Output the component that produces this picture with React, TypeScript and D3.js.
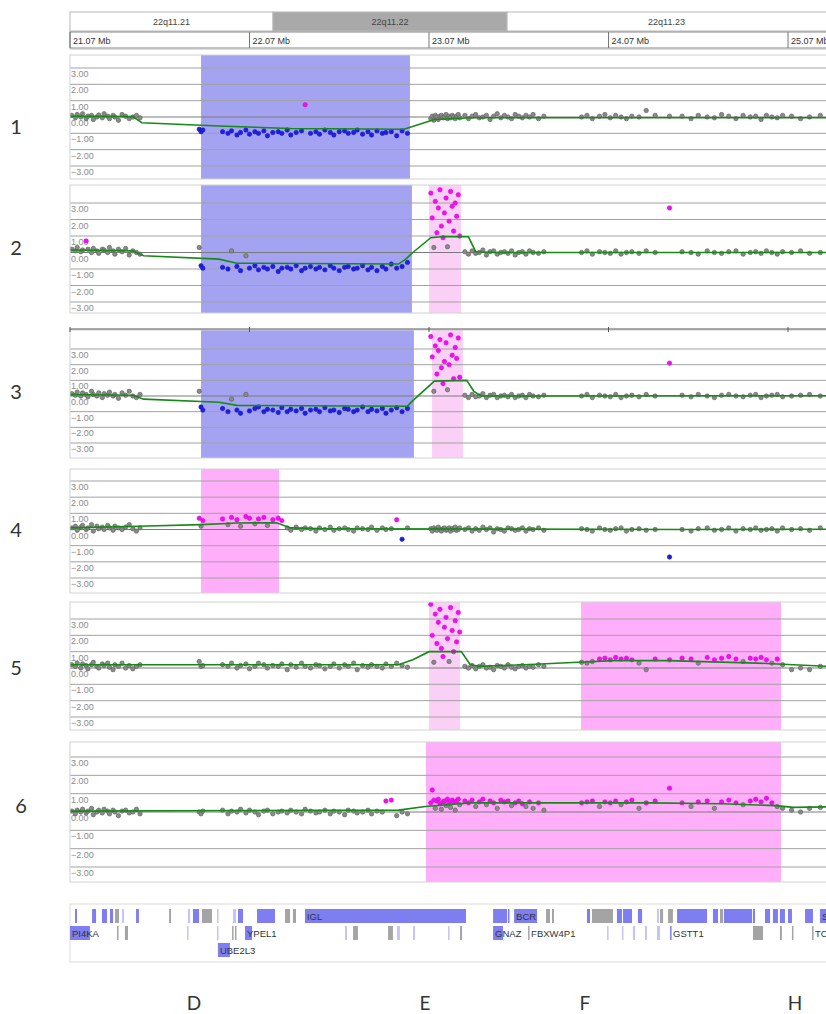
import React, { useEffect, useRef } from 'react';
import * as d3 from 'd3';

// probe positions (Mb), same array for every sample
const probeMb = [
  // 21.07 - 21.46
  21.08, 21.10, 21.11, 21.13, 21.14, 21.16, 21.17, 21.19, 21.20, 21.22, 21.23, 21.25,
  21.26, 21.28, 21.29, 21.31, 21.32, 21.34, 21.36, 21.38, 21.40, 21.42, 21.44, 21.46,
  // 21.8
  21.79, 21.80, 21.81,
  // 21.92 - 22.95
  21.92, 21.95, 21.97, 22.00, 22.02, 22.05, 22.07, 22.10, 22.12, 22.15,
  22.17, 22.20, 22.23, 22.25, 22.28, 22.30, 22.33, 22.36, 22.38, 22.41,
  22.44, 22.46, 22.49, 22.52, 22.54, 22.57, 22.60, 22.62, 22.65, 22.67,
  22.70, 22.73, 22.75, 22.78, 22.81, 22.83, 22.86, 22.89, 22.92, 22.95,
  // 23.08 - 23.24
  23.080, 23.088, 23.097, 23.105, 23.114, 23.122, 23.131, 23.139, 23.148, 23.156,
  23.165, 23.173, 23.182, 23.190, 23.199, 23.207, 23.216, 23.224, 23.233, 23.241,
  // 23.27 - 23.71
  23.27, 23.29, 23.31, 23.33, 23.35, 23.37, 23.39, 23.41, 23.43, 23.45,
  23.47, 23.49, 23.51, 23.53, 23.55, 23.57, 23.59, 23.61, 23.63, 23.65,
  23.68, 23.71,
  // 23.92 - 24.41
  23.92, 23.95, 23.98, 24.02, 24.05, 24.08, 24.11, 24.14, 24.17, 24.20,
  24.24, 24.28, 24.33, 24.41,
  // 24.48 - 25.25
  24.48, 24.53, 24.57, 24.62, 24.66, 24.70, 24.74, 24.78, 24.82, 24.86,
  24.89, 24.92, 24.95, 24.98, 25.01, 25.04, 25.09, 25.14, 25.19, 25.25,
];

const p1Values = [
  0.1, -0.05, 0.15, 0.0, 0.2, -0.1, 0.05, 0.1, -0.15, 0.0, 0.12, -0.05, 0.2, 0.05, -0.1, 0.1, 0.0, -0.2, 0.15, 0.05, -0.1, 0.0, 0.1, -0.05,
  -0.75, -0.9, -0.8,
  -0.9, -1.0, -0.85, -1.1, -0.95, -0.8, -1.05, -0.9, -1.0, -0.85,
  -1.15, -0.95, -0.9, -1.0, -0.8, -1.1, -0.95, -0.85, 0.75, -1.0,
  -0.9, -1.05, -0.8, -0.95, -1.1, -0.9, -0.85, -1.0, -0.95, -0.8,
  -1.05, -0.9, -1.1, -0.85, -1.0, -0.95, -0.9, -1.15, -0.85, -1.0,
  -0.1, 0.05, -0.2, 0.1, 0.0, -0.15, 0.05, 0.1, -0.05, 0.0, 0.15, -0.1, 0.05, -0.05, 0.1, 0.0, -0.1, 0.05, 0.15, -0.05,
  0.1, -0.1, 0.05, 0.15, -0.05, 0.0, 0.1, -0.15, 0.05, 0.2, -0.05, 0.1, 0.0, -0.1, 0.15, 0.05, -0.05, 0.1, 0.0, 0.15, -0.1, 0.05,
  0.0, 0.1, -0.1, 0.05, 0.15, -0.05, 0.1, 0.0, -0.1, 0.05, 0.0, 0.4, 0.1, 0.05,
  0.05, -0.1, 0.1, 0.0, -0.05, 0.15, 0.05, -0.1, 0.1, 0.0, 0.05, -0.15, 0.1, 0.0, -0.05, 0.1, 0.05, -0.1, 0.0, 0.1,
];

const p2Values = [
  0.2, 0.1, 0.3, 0.05, 0.15, 0.7, 0.2, 0.0, 0.25, 0.1, -0.05, 0.2, 0.15, 0.0, 0.3, 0.1, -0.1, 0.2, 0.05, 0.25, -0.15, 0.1, 0.0, -0.1,
  0.3, -0.8, -0.95,
  -0.9, -1.0, 0.1, -0.85, -1.1, -0.2, -0.95, -0.8, -1.05, -0.9,
  -1.0, -0.85, -1.15, -0.95, -0.9, -1.0, -0.8, -1.1, -0.95, -0.85,
  -1.0, -0.9, -1.05, -0.8, -0.95, -1.1, -0.9, -0.85, -1.0, -0.95,
  -0.8, -1.05, -0.9, -1.1, -0.85, -1.0, -0.7, -0.95, -0.85, -0.6,
  3.6, 2.1, 0.3, 3.1, 1.2, 2.7, 3.8, 1.6, 0.9, 2.4, 3.3, 0.35, 1.9, 3.7, 2.8, 1.3, 3.0, 2.2, 3.5, 1.0,
  0.05, -0.1, 0.1, -0.05, 0.0, 0.15, -0.15, 0.05, 0.1, -0.1, 0.0, 0.05, -0.05, 0.1, -0.15, 0.0, 0.05, -0.1, 0.1, 0.0, -0.05, 0.05,
  0.0, 0.1, -0.1, 0.05, 0.0, -0.05, 0.1, -0.1, 0.0, 0.05, -0.05, 0.1, 0.0, 2.7,
  0.05, 0.0, -0.1, 0.1, 0.0, -0.05, 0.05, 0.1, -0.1, 0.0, 0.05, -0.05, 0.1, 0.0, -0.1, 0.05, 0.0, 0.1, -0.05, 0.0,
];

const p3Values = [
  0.15, 0.05, 0.25, 0.0, 0.2, 0.1, -0.05, 0.3, 0.1, 0.0, 0.2, -0.1, 0.15, 0.05, 0.25, 0.0, 0.1, -0.15, 0.2, 0.05, 0.3, 0.0, -0.1, 0.1,
  0.3, -0.7, -0.9,
  -0.8, -1.0, -0.2, -0.9, -1.1, 0.1, -0.95, -0.8, -0.7, -1.0,
  -0.85, -0.9, -1.05, -0.75, -1.0, -0.85, -0.95, -0.8, -1.1, -0.9,
  -0.85, -1.0, -0.75, -0.95, -0.9, -1.05, -0.8, -0.85, -1.0, -0.9,
  -0.7, -1.0, -0.85, -0.95, -0.8, -1.1, -0.9, -0.75, -1.0, -0.8,
  3.8, 2.5, 0.3, 3.2, 1.4, 2.9, 3.6, 1.8, 0.8, 2.2, 3.4, 0.4, 2.0, 3.9, 2.6, 1.1, 3.1, 2.4, 3.7, 1.2,
  0.05, -0.1, 0.1, -0.05, 0.0, 0.15, -0.1, 0.05, 0.1, -0.1, 0.0, 0.05, -0.05, 0.1, -0.1, 0.0, 0.05, -0.1, 0.1, 0.0, -0.05, 0.05,
  0.0, 0.1, -0.1, 0.05, 0.0, -0.05, 0.1, -0.1, 0.0, 0.05, -0.05, 0.1, 0.0, 2.1,
  0.05, -0.05, 0.1, 0.0, -0.1, 0.05, 0.1, 0.0, -0.05, 0.05, 0.1, -0.1, 0.0, 0.05, 0.1, -0.05, 0.0, 0.05, 0.1, 0.0,
];

const p4Values = [
  0.1, 0.2, -0.05, 0.15, 0.25, 0.0, 0.1, 0.3, -0.1, 0.2, 0.05, 0.15, 0.0, 0.25, 0.1, -0.05, 0.2, 0.1, 0.0, 0.15, 0.3, 0.05, -0.1, 0.1,
  0.7, 0.2, 0.55,
  0.65, 0.3, 0.75, 0.6, 0.2, 0.8, 0.7, 0.35, 0.65, 0.75,
  0.25, 0.6, 0.7, 0.55, 0.1, -0.05, 0.15, 0.0, 0.1, 0.05,
  -0.1, 0.1, 0.0, 0.15, -0.05, 0.05, 0.1, 0.0, -0.1, 0.1,
  0.05, 0.0, 0.15, -0.05, 0.1, 0.0, 0.05, 0.6, -0.6, 0.1,
  0.05, -0.1, 0.1, 0.0, -0.05, 0.15, 0.0, -0.1, 0.05, 0.1, -0.05, 0.0, 0.1, -0.1, 0.05, 0.0, 0.15, -0.05, 0.0, 0.1,
  0.0, 0.1, -0.1, 0.05, -0.05, 0.15, 0.0, 0.1, -0.15, 0.05, 0.0, -0.1, 0.1, 0.05, -0.05, 0.0, 0.1, -0.1, 0.05, 0.0, 0.1, -0.05,
  0.05, 0.0, -0.1, 0.1, 0.0, -0.05, 0.05, 0.1, -0.1, 0.0, 0.05, -0.05, 0.0, -1.7,
  0.0, -0.1, 0.05, 0.1, -0.05, 0.0, 0.1, -0.1, 0.05, 0.0, 0.1, -0.05, 0.0, 0.05, -0.1, 0.1, 0.0, 0.05, -0.05, 0.1,
];

const p5Values = [
  0.2, 0.1, 0.3, 0.0, 0.25, 0.15, -0.05, 0.2, 0.35, 0.1, 0.0, 0.25, 0.15, 0.3, 0.05, -0.1, 0.2, 0.1, 0.3, 0.0, 0.15, -0.05, 0.1, 0.2,
  0.4, 0.1, 0.15,
  0.2, 0.1, 0.3, 0.0, 0.15, 0.25, -0.05, 0.1, 0.3, 0.2,
  0.0, 0.15, 0.1, 0.25, -0.1, 0.2, 0.05, 0.3, 0.1, 0.0,
  0.2, 0.15, -0.05, 0.1, 0.25, 0.0, 0.2, 0.1, 0.3, -0.1,
  0.15, 0.05, 0.2, 0.1, 0.0, 0.25, 0.1, 0.3, 0.15, 0.05,
  3.9, 2.0, 0.35, 3.3, 1.5, 2.8, 3.6, 1.2, 0.7, 2.5, 3.1, 1.8, 0.4, 3.7, 2.3, 1.0, 2.9, 1.6, 3.4, 2.2,
  0.1, 0.0, 0.15, -0.05, 0.1, 0.2, 0.0, 0.05, -0.1, 0.15, 0.1, 0.0, 0.2, 0.05, -0.05, 0.1, 0.15, 0.0, 0.1, 0.05, 0.2, 0.1,
  0.35, 0.3, 0.4, 0.55, 0.6, 0.5, 0.65, 0.55, 0.6, 0.5, 0.3, -0.1, 0.55, 0.5,
  0.6, 0.55, 0.3, 0.65, 0.5, 0.6, 0.7, 0.55, 0.4, 0.6, 0.55, 0.65, 0.5, 0.3, 0.55, 0.2, -0.1, 0.0, -0.1, 0.1,
];

const p6Values = [
  0.05, -0.1, 0.1, 0.0, 0.15, -0.05, 0.05, 0.2, -0.15, 0.0, 0.1, -0.05, 0.15, 0.05, -0.1, 0.1, 0.0, -0.2, 0.05, 0.1, -0.05, 0.0, 0.15, -0.1,
  0.0, -0.1, 0.05,
  0.1, -0.1, 0.05, 0.0, 0.15, -0.05, 0.1, 0.0, -0.15, 0.05,
  0.1, -0.1, 0.0, 0.05, -0.05, 0.1, 0.0, -0.1, 0.15, 0.05,
  -0.05, 0.0, 0.1, -0.1, 0.05, 0.0, -0.15, 0.1, 0.05, -0.05,
  0.0, 0.1, -0.1, 0.05, 0.0, 0.6, 0.65, -0.2, 0.0, -0.1,
  0.5, 1.2, 0.65, 0.2, 0.6, 0.7, 0.45, 0.15, 0.55, 0.6, 0.35, 0.7, 0.5, 0.25, 0.65, 0.55, 0.1, 0.6, 0.7, 0.4,
  0.6, 0.5, 0.65, 0.3, 0.55, 0.7, 0.4, 0.6, 0.5, 0.2, 0.65, 0.55, 0.6, 0.35, 0.5, 0.6, 0.45, 0.3, 0.55, 0.2, 0.5, 0.1,
  0.5, 0.55, 0.6, 0.3, 0.55, 0.5, 0.6, 0.4, 0.55, 0.65, 0.2, 0.5, 0.6, 1.3,
  0.5, 0.3, 0.55, 0.6, 0.2, 0.55, 0.65, 0.5, 0.4, 0.6, 0.7, 0.55, 0.75, 0.5, 0.3, 0.2, 0.1, 0.0, 0.2, 0.25,
];

// smoothed ratio line [Mb, log2 ratio]
const p1Trend = [[21.07, 0.05], [21.42, 0.02], [21.47, -0.35], [21.9, -0.55], [22.3, -0.7], [22.93, -0.75], [23.0, -0.5], [23.1, -0.15], [23.3, -0.05], [25.4, -0.05]];
const p2Trend = [[21.07, 0.15], [21.42, 0.1], [21.48, -0.2], [21.9, -0.4], [22.0, -0.65], [22.9, -0.7], [22.94, -0.4], [22.98, 0.0], [23.08, 0.9], [23.15, 0.97], [23.29, 0.95], [23.33, 0.05], [23.45, 0.0], [25.4, 0.0]];
const p3Trend = [[21.07, 0.1], [21.42, 0.05], [21.48, -0.2], [21.9, -0.4], [22.0, -0.6], [22.95, -0.65], [22.98, -0.3], [23.1, 0.95], [23.28, 1.0], [23.32, 0.3], [23.36, 0.0], [25.4, 0.02]];
const p4Trend = [[21.07, 0.1], [21.45, 0.2], [21.8, 0.3], [22.0, 0.4], [22.22, 0.42], [22.3, 0.1], [22.5, 0.05], [24.5, 0.0], [25.4, 0.02]];
const p5Trend = [[21.07, 0.2], [22.9, 0.2], [22.98, 0.5], [23.07, 1.0], [23.25, 1.0], [23.3, 0.2], [23.35, 0.1], [23.6, 0.2], [23.9, 0.35], [24.1, 0.45], [24.4, 0.45], [24.9, 0.3], [25.1, 0.2], [25.4, 0.05]];
const p6Trend = [[21.07, 0.05], [22.9, 0.1], [23.05, 0.3], [23.3, 0.5], [24.3, 0.5], [24.7, 0.45], [25.0, 0.35], [25.1, 0.25], [25.4, 0.3]];

// called aberrations
const p1Regions = [{ start: 21.8, end: 22.964, type: 'loss' }];
const p2Regions = [{ start: 21.8, end: 22.975, type: 'loss' }, { start: 23.07, end: 23.248, type: 'amp' }];
const p3Regions = [{ start: 21.8, end: 22.986, type: 'loss' }, { start: 23.087, end: 23.259, type: 'amp' }];
const p4Regions = [{ start: 21.8, end: 22.234, type: 'gain' }];
const p5Regions = [{ start: 23.07, end: 23.243, type: 'amp' }, { start: 23.917, end: 25.031, type: 'gain' }];
const p6Regions = [{ start: 23.053, end: 25.031, type: 'gain' }];

const cytobands = [
  { name: '22q11.21', start: 21.07, end: 22.201, stain: 'white' },
  { name: '22q11.22', start: 22.201, end: 23.505, stain: 'gray' },
  { name: '22q11.23', start: 23.505, end: 25.4, stain: 'white' },
];
const mbTicks = [21.07, 22.07, 23.07, 24.07, 25.07];
const yTicks = [3, 2, 1, 0, -1, -2, -3];

// [name, start Mb, end Mb, row, shade]
const genes = [
  ['', 21.098, 21.109, 1, 'b'], ['', 21.193, 21.215, 1, 'b'], ['', 21.248, 21.276, 1, 'b'],
  ['', 21.293, 21.31, 1, 'b'], ['', 21.321, 21.343, 1, 'g'], ['', 21.36, 21.371, 1, 'l'],
  ['', 21.438, 21.454, 1, 'b'], ['', 21.622, 21.633, 1, 'g'], ['', 21.727, 21.739, 1, 'l'],
  ['', 21.755, 21.789, 1, 'b'], ['', 21.805, 21.861, 1, 'g'], ['', 21.889, 21.894, 1, 'l'],
  ['', 21.978, 21.995, 1, 'l'], ['', 22.006, 22.034, 1, 'b'], ['', 22.112, 22.212, 1, 'b'],
  ['', 22.268, 22.296, 1, 'g'], ['', 22.312, 22.329, 1, 'g'], ['IGL', 22.379, 23.276, 1, 'b'],
  ['', 23.427, 23.505, 1, 'b'], ['', 23.51, 23.516, 1, 'b'], ['BCR', 23.544, 23.672, 1, 'b'],
  ['', 23.722, 23.744, 1, 'g'], ['', 23.755, 23.766, 1, 'g'], ['', 23.95, 23.967, 1, 'b'],
  ['', 23.978, 24.095, 1, 'g'], ['', 24.117, 24.145, 1, 'b'], ['', 24.151, 24.201, 1, 'b'],
  ['', 24.234, 24.257, 1, 'b'], ['', 24.34, 24.351, 1, 'l'], ['', 24.357, 24.374, 1, 'g'],
  ['', 24.402, 24.429, 1, 'g'], ['', 24.452, 24.619, 1, 'b'], ['', 24.652, 24.68, 1, 'b'],
  ['', 24.691, 24.708, 1, 'g'], ['', 24.713, 24.87, 1, 'b'], ['', 24.875, 24.886, 1, 'b'],
  ['', 24.942, 24.97, 1, 'b'], ['', 24.986, 25.014, 1, 'b'], ['', 25.025, 25.053, 1, 'b'],
  ['', 25.07, 25.092, 1, 'b'], ['', 25.165, 25.209, 1, 'b'], ['S', 25.248, 25.304, 1, 'b'],
  ['PI4KA', 21.07, 21.181, 2, 'b'], ['', 21.332, 21.337, 2, 'g'], ['', 21.376, 21.393, 2, 'g'],
  ['', 21.722, 21.727, 2, 'l'], ['', 21.889, 21.894, 2, 'l'], ['', 21.973, 21.978, 2, 'g'],
  ['', 21.989, 21.995, 2, 'g'], ['YPEL1', 22.045, 22.084, 2, 'b'], ['', 22.602, 22.613, 2, 'l'],
  ['', 22.647, 22.674, 2, 'g'], ['', 22.842, 22.869, 2, 'g'], ['', 22.892, 22.908, 2, 'l'],
  ['', 22.981, 22.992, 2, 'l'], ['', 23.176, 23.181, 2, 'l'], ['', 23.243, 23.254, 2, 'g'],
  ['GNAZ', 23.427, 23.482, 2, 'b'], ['FBXW4P1', 23.622, 23.627, 2, 'g'], ['', 24.062, 24.067, 2, 'l'],
  ['', 24.145, 24.151, 2, 'l'], ['', 24.206, 24.218, 2, 'l'], ['', 24.273, 24.284, 2, 'l'],
  ['', 24.34, 24.357, 2, 'l'], ['GSTT1', 24.413, 24.418, 2, 'b'], ['', 24.875, 24.931, 2, 'g'],
  ['', 25.025, 25.036, 2, 'g'], ['', 25.092, 25.098, 2, 'g'], ['TC', 25.204, 25.209, 2, 'g'],
  ['UBE2L3', 21.894, 21.961, 3, 'b'],
];

const markers = [['D', 21.761], ['E', 23.048], ['F', 23.939], ['H', 25.109]];

const App = () => {
  const ref = useRef<SVGSVGElement>(null);

  const drawChart = () => {
    const width = 826;
    const height = 1014;
    const left = 70;
    const right = 832;
    const x = d3.scaleLinear().domain([21.07, 25.07]).range([70, 788]);

    const svg = d3.select(ref.current);
    svg.selectAll('*').remove();
    svg.attr('width', width).attr('height', height);
    svg.append('rect').attr('width', width).attr('height', height).attr('fill', 'white');

    // ideogram band row
    const head = svg.append('g').attr('font-family', 'Liberation Sans, Arial, sans-serif').attr('font-size', 9);
    head
      .selectAll('rect.band')
      .data(cytobands)
      .enter()
      .append('rect')
      .attr('x', (d) => Math.max(left, x(d.start)))
      .attr('y', 12)
      .attr('width', (d) => Math.min(right, x(d.end)) - Math.max(left, x(d.start)))
      .attr('height', 19)
      .attr('fill', (d) => (d.stain === 'gray' ? '#a9a9a9' : '#fff'))
      .attr('stroke', '#b8b8b8');
    head
      .selectAll('text.band')
      .data(cytobands)
      .enter()
      .append('text')
      .attr('x', (d) => (Math.max(left, x(d.start)) + Math.min(826, x(d.end))) / 2)
      .attr('y', 25)
      .attr('text-anchor', 'middle')
      .attr('fill', '#444')
      .text((d) => d.name);

    // Mb row
    head.append('rect').attr('x', left).attr('y', 32).attr('width', right - left).attr('height', 16).attr('fill', '#fff').attr('stroke', '#888');
    head.append('line').attr('x1', left).attr('x2', right).attr('y1', 49).attr('y2', 49).attr('stroke', '#bbb');
    head
      .selectAll('line.tick')
      .data(mbTicks)
      .enter()
      .append('line')
      .attr('x1', (d) => x(d))
      .attr('x2', (d) => x(d))
      .attr('y1', 32)
      .attr('y2', 48)
      .attr('stroke', '#777');
    head
      .selectAll('text.tick')
      .data(mbTicks)
      .enter()
      .append('text')
      .attr('x', (d) => x(d) + 3)
      .attr('y', 44)
      .attr('fill', '#333')
      .text((d) => `${d.toFixed(2)} Mb`);

    const panels = [
      { name: '1', values: p1Values, trend: p1Trend, regions: p1Regions, top: 55, bottom: 179, y3: 68, yLow: 166, labelY: 127 },
      { name: '2', values: p2Values, trend: p2Trend, regions: p2Regions, top: 185, bottom: 313, y3: 203, yLow: 302, labelY: 248 },
      { name: '3', values: p3Values, trend: p3Trend, regions: p3Regions, top: 330, bottom: 458, y3: 349, yLow: 443, labelY: 392, axis: 329 },
      { name: '4', values: p4Values, trend: p4Trend, regions: p4Regions, top: 469, bottom: 593, y3: 481, yLow: 578, labelY: 530 },
      { name: '5', values: p5Values, trend: p5Trend, regions: p5Regions, top: 602, bottom: 730, y3: 619, yLow: 717, labelY: 668 },
      { name: '6', values: p6Values, trend: p6Trend, regions: p6Regions, top: 742, bottom: 882, y3: 757, yLow: 867, labelY: 806 },
    ];
    const regionColor: Record<string, string> = { loss: '#a3a3f2', amp: '#fbd0f6', gain: '#ffaff9' };
    const fmt = d3.format('.2f');

    panels.forEach((p, i) => {
      const y = d3.scaleLinear().domain([3, -3]).range([p.y3, p.yLow]);
      const g = svg.append('g');
      const clipId = `clip-${i}`;
      g.append('clipPath').attr('id', clipId).append('rect').attr('x', left).attr('y', p.top).attr('width', right - left).attr('height', p.bottom - p.top);
      const body = g.append('g').attr('clip-path', `url(#${clipId})`);

      body
        .selectAll('rect.region')
        .data(p.regions)
        .enter()
        .append('rect')
        .attr('x', (d) => x(d.start))
        .attr('y', p.top)
        .attr('width', (d) => x(d.end) - x(d.start))
        .attr('height', p.bottom - p.top)
        .attr('fill', (d) => regionColor[d.type]);

      body
        .selectAll('line.grid')
        .data(yTicks)
        .enter()
        .append('line')
        .attr('x1', left)
        .attr('x2', right)
        .attr('y1', (d) => y(d))
        .attr('y2', (d) => y(d))
        .attr('stroke', (d) => (d === 0 ? '#7a7a7a' : '#a2a2a2'))
        .attr('stroke-width', 1);

      body
        .selectAll('text.ylab')
        .data(yTicks)
        .enter()
        .append('text')
        .attr('x', left + 1)
        .attr('y', (d) => y(d) + 9)
        .attr('font-family', 'Liberation Sans, Arial, sans-serif')
        .attr('font-size', 9)
        .attr('fill', '#8c8c8c')
        .text((d) => fmt(d));

      const pts = probeMb.map((mb, k) => ({ mb, v: p.values[k] })).filter((d) => d.v !== undefined);
      body
        .selectAll('circle')
        .data(pts)
        .enter()
        .append('circle')
        .attr('cx', (d) => x(d.mb))
        .attr('cy', (d) => y(d.v))
        .attr('r', 2.2)
        .attr('fill', (d) => (d.v >= 0.45 ? '#ee12ee' : d.v <= -0.45 ? '#2020e0' : '#8a8a8a'))
        .attr('stroke', (d) => (d.v >= 0.45 ? '#e000e0' : d.v <= -0.45 ? '#1515c8' : '#5a5a5a'))
        .attr('stroke-width', 0.6);

      const line = d3
        .line<number[]>()
        .x((d) => x(d[0]))
        .y((d) => y(d[1]));
      body
        .append('path')
        .attr('d', line(p.trend))
        .attr('fill', 'none')
        .attr('stroke', '#168a16')
        .attr('stroke-width', 1.6);

      g.append('rect')
        .attr('x', left)
        .attr('y', p.top)
        .attr('width', right - left)
        .attr('height', p.bottom - p.top)
        .attr('fill', 'none')
        .attr('stroke', '#d2d2d2');

      if (p.axis) {
        g.append('line').attr('x1', left).attr('x2', right).attr('y1', p.axis).attr('y2', p.axis).attr('stroke', '#555');
        g.selectAll('line.axtick')
          .data(mbTicks)
          .enter()
          .append('line')
          .attr('x1', (d) => x(d))
          .attr('x2', (d) => x(d))
          .attr('y1', p.axis - 2)
          .attr('y2', p.axis + 3)
          .attr('stroke', '#555');
      }

      svg
        .append('text')
        .attr('x', i === 5 ? 21 : 16)
        .attr('y', p.labelY + 7)
        .attr('text-anchor', 'middle')
        .attr('font-family', 'Lato, Open Sans, sans-serif')
        .attr('font-size', 20)
        .attr('fill', '#333')
        .text(p.name);
    });

    // gene track
    const rowY: Record<number, number> = { 1: 909, 2: 926, 3: 943 };
    const shade: Record<string, string> = { b: '#7e7ef0', l: '#c4c4f8', g: '#a4a4a4' };
    const gt = svg.append('g');
    gt.append('clipPath').attr('id', 'gclip').append('rect').attr('x', left).attr('y', 904).attr('width', right - left).attr('height', 60);
    gt.append('rect').attr('x', left).attr('y', 904).attr('width', right - left).attr('height', 58).attr('fill', '#fff').attr('stroke', '#dcdcdc');
    const gb = gt.append('g').attr('clip-path', 'url(#gclip)');
    gb.selectAll('rect.gene')
      .data(genes)
      .enter()
      .append('rect')
      .attr('x', (d: any) => x(d[1]))
      .attr('y', (d: any) => rowY[d[3]])
      .attr('width', (d: any) => Math.max(1.5, x(d[2]) - x(d[1])))
      .attr('height', 14)
      .attr('fill', (d: any) => shade[d[4]]);
    gb.selectAll('text.gene')
      .data(genes.filter((d) => d[0] !== ''))
      .enter()
      .append('text')
      .attr('x', (d: any) => x(d[1]) + (d[0] === 'FBXW4P1' || d[0] === 'GSTT1' || d[0] === 'TC' ? 3 : 2))
      .attr('y', (d: any) => rowY[d[3]] + 11)
      .attr('font-family', 'Liberation Sans, Arial, sans-serif')
      .attr('font-size', 9.5)
      .attr('fill', '#333')
      .text((d: any) => d[0]);

    // breakpoint letters
    svg
      .selectAll('text.marker')
      .data(markers)
      .enter()
      .append('text')
      .attr('x', (d: any) => x(d[1]))
      .attr('y', 1010)
      .attr('text-anchor', 'middle')
      .attr('font-family', 'Lato, Open Sans, sans-serif')
      .attr('font-size', 19)
      .attr('fill', '#333')
      .text((d: any) => d[0]);
  };

  useEffect(() => {
    drawChart();
  }, []);

  return (
    <div style={{ position: 'absolute', left: 0, top: 0 }}>
      <svg ref={ref} style={{ display: 'block' }} />
    </div>
  );
};

export default App;
